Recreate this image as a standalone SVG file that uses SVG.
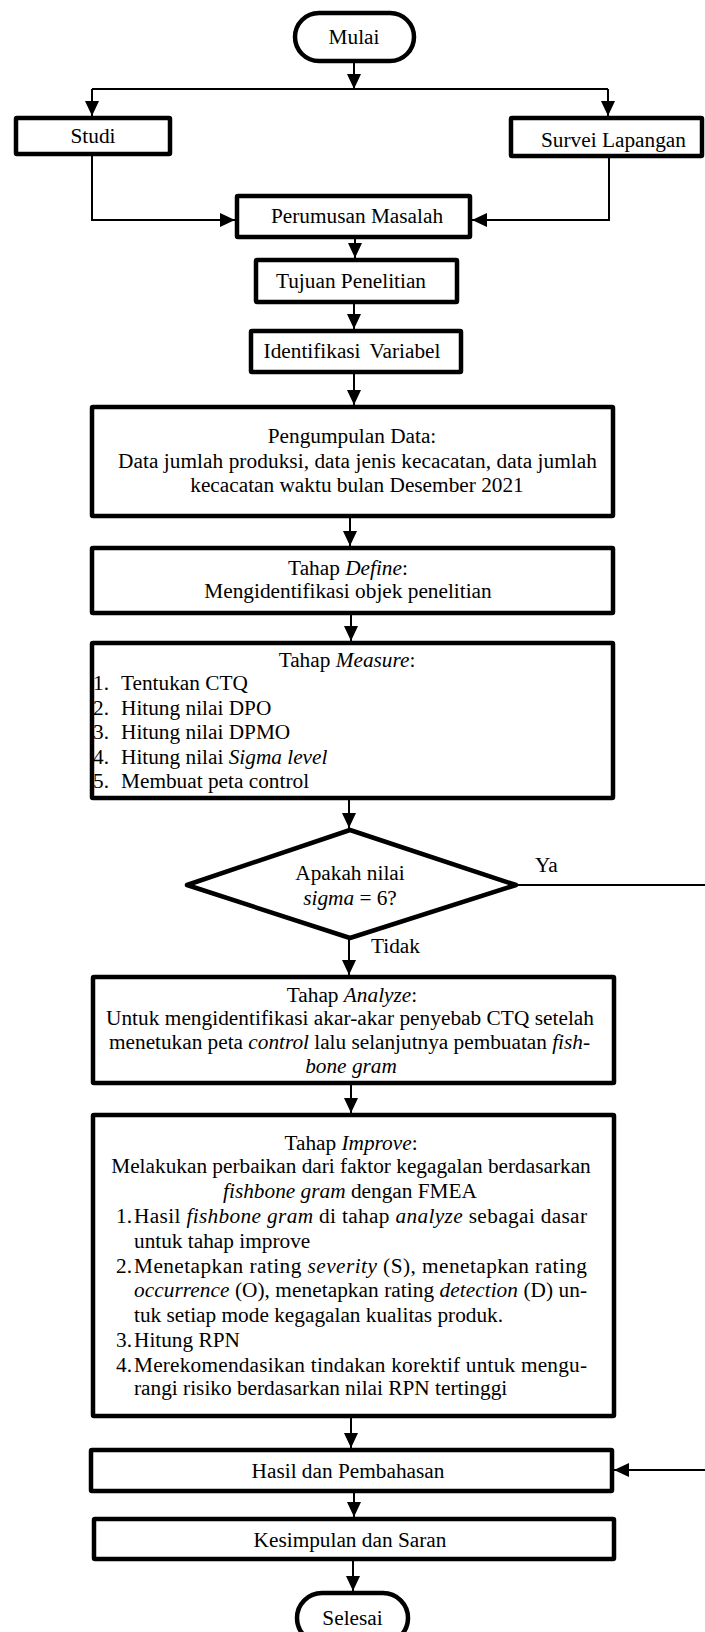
<svg xmlns="http://www.w3.org/2000/svg" width="705" height="1632" viewBox="0 0 705 1632">
<defs>
<style>
.box{fill:#fff;stroke:#000;stroke-width:4.5;stroke-linejoin:round}
.ln{fill:none;stroke:#000;stroke-width:2}
.ar{fill:none;stroke:#000;stroke-width:2;marker-end:url(#ah)}
text{font-family:"Liberation Serif","Times New Roman",serif;font-size:21.3px;fill:#000}
.c{text-anchor:middle}
.i{font-style:italic}
</style>
<marker id="ah" markerUnits="userSpaceOnUse" markerWidth="16" markerHeight="14" refX="15" refY="7" orient="auto">
<path d="M0,0 L15,7 L0,14 z" fill="#000"/>
</marker>
</defs>

<g id="connectors">
<path class="ar" d="M354,61 V89"/>
<path class="ln" d="M92,89 H608"/>
<path class="ar" d="M92,89 V116"/>
<path class="ar" d="M608,89 V116"/>
<path class="ar" d="M92,154 V220 H235"/>
<path class="ar" d="M609,156 V220 H472"/>
<path class="ar" d="M355,237 V258"/>
<path class="ar" d="M354,302 V329"/>
<path class="ar" d="M354,372 V405"/>
<path class="ar" d="M350,516 V546"/>
<path class="ar" d="M351,613 V641"/>
<path class="ar" d="M349,798 V828"/>
<path class="ln" d="M516,885 H705"/>
<path class="ar" d="M349,938 V975"/>
<path class="ar" d="M351,1083 V1113"/>
<path class="ar" d="M351,1416 V1448"/>
<path class="ar" d="M705,1470 H614"/>
<path class="ar" d="M354,1491 V1517"/>
<path class="ar" d="M353,1559 V1591"/>
<text x="535" y="872">Ya</text>
<text x="371" y="953">Tidak</text>
</g>

<g id="mulai">
<rect class="box" x="295" y="13" width="119" height="48" rx="24"/>
<text class="c" x="354" y="44">Mulai</text>
</g>

<g id="studi">
<rect class="box" x="16" y="118" width="154" height="36" rx="1"/>
<text class="c" x="93" y="143">Studi</text>
</g>

<g id="survei">
<rect class="box" x="511" y="118" width="191" height="38" rx="1"/>
<text x="541" y="147">Survei Lapangan</text>
</g>

<g id="perumusan">
<rect class="box" x="237" y="196" width="233" height="41" rx="1"/>
<text class="c" x="357" y="223">Perumusan Masalah</text>
</g>

<g id="tujuan">
<rect class="box" x="256" y="260" width="201" height="42" rx="1"/>
<text class="c" x="351" y="288">Tujuan Penelitian</text>
</g>

<g id="identifikasi">
<rect class="box" x="251" y="331" width="210" height="41" rx="1"/>
<text class="c" x="352" y="358" word-spacing="4">Identifikasi Variabel</text>
</g>

<g id="pengumpulan">
<rect class="box" x="92" y="407" width="521" height="109" rx="1"/>
<text class="c" x="352" y="443">Pengumpulan Data:</text>
<text x="118" y="468" textLength="479" lengthAdjust="spacing">Data jumlah produksi, data jenis kecacatan, data jumlah</text>
<text class="c" x="357" y="492">kecacatan waktu bulan Desember 2021</text>
</g>

<g id="define">
<rect class="box" x="92" y="548" width="521" height="65" rx="1"/>
<text class="c" x="348" y="575">Tahap <tspan class="i">Define</tspan>:</text>
<text class="c" x="348" y="598">Mengidentifikasi objek penelitian</text>
</g>

<g id="measure">
<rect class="box" x="92" y="643" width="521" height="155" rx="1"/>
<text class="c" x="347" y="667">Tahap <tspan class="i">Measure</tspan>:</text>
<text x="93" y="690">1.</text><text x="121" y="690">Tentukan CTQ</text>
<text x="93" y="715">2.</text><text x="121" y="715">Hitung nilai DPO</text>
<text x="93" y="739">3.</text><text x="121" y="739">Hitung nilai DPMO</text>
<text x="93" y="764">4.</text><text x="121" y="764">Hitung nilai <tspan class="i">Sigma level</tspan></text>
<text x="93" y="788">5.</text><text x="121" y="788">Membuat peta control</text>
</g>

<g id="decision">
<polygon class="box" points="350,830 516,885 350,938 187,885"/>
<text class="c" x="350" y="880">Apakah nilai</text>
<text class="c" x="350" y="905"><tspan class="i">sigma</tspan> = 6?</text>
</g>

<g id="analyze">
<rect class="box" x="93" y="977" width="521" height="106" rx="1"/>
<text class="c" x="352" y="1002">Tahap <tspan class="i">Analyze</tspan>:</text>
<text x="106" y="1025" textLength="488" lengthAdjust="spacing">Untuk mengidentifikasi akar-akar penyebab CTQ setelah</text>
<text x="109" y="1049" textLength="481" lengthAdjust="spacing">menetukan peta <tspan class="i">control</tspan> lalu selanjutnya pembuatan <tspan class="i">fish-</tspan></text>
<text class="c i" x="351" y="1073">bone gram</text>
</g>

<g id="improve">
<rect class="box" x="93" y="1115" width="521" height="301" rx="1"/>
<text class="c" x="351" y="1150">Tahap <tspan class="i">Improve</tspan>:</text>
<text class="c" x="351" y="1173">Melakukan perbaikan dari faktor kegagalan berdasarkan</text>
<text class="c" x="350" y="1198"><tspan class="i">fishbone gram</tspan> dengan FMEA</text>
<text x="116" y="1223">1.</text>
<text x="134" y="1223" textLength="453" lengthAdjust="spacing">Hasil <tspan class="i">fishbone gram</tspan> di tahap <tspan class="i">analyze</tspan> sebagai dasar</text>
<text x="134" y="1248">untuk tahap improve</text>
<text x="116" y="1273">2.</text>
<text x="134" y="1273" textLength="453" lengthAdjust="spacing">Menetapkan rating <tspan class="i">severity</tspan> (S), menetapkan rating</text>
<text x="134" y="1297" textLength="453" lengthAdjust="spacing"><tspan class="i">occurrence</tspan> (O), menetapkan rating <tspan class="i">detection</tspan> (D) un-</text>
<text x="134" y="1322">tuk setiap mode kegagalan kualitas produk.</text>
<text x="116" y="1347">3.</text>
<text x="134" y="1347">Hitung RPN</text>
<text x="116" y="1372">4.</text>
<text x="134" y="1372" textLength="453" lengthAdjust="spacing">Merekomendasikan tindakan korektif untuk mengu-</text>
<text x="134" y="1395">rangi risiko berdasarkan nilai RPN tertinggi</text>
</g>

<g id="hasil">
<rect class="box" x="91" y="1450" width="521" height="41" rx="1"/>
<text class="c" x="348" y="1478">Hasil dan Pembahasan</text>
</g>

<g id="kesimpulan">
<rect class="box" x="94" y="1519" width="520" height="40" rx="1"/>
<text class="c" x="350" y="1547">Kesimpulan dan Saran</text>
</g>

<g id="selesai">
<rect class="box" x="297" y="1593" width="111" height="50" rx="25"/>
<text class="c" x="352.5" y="1625">Selesai</text>
</g>
</svg>
